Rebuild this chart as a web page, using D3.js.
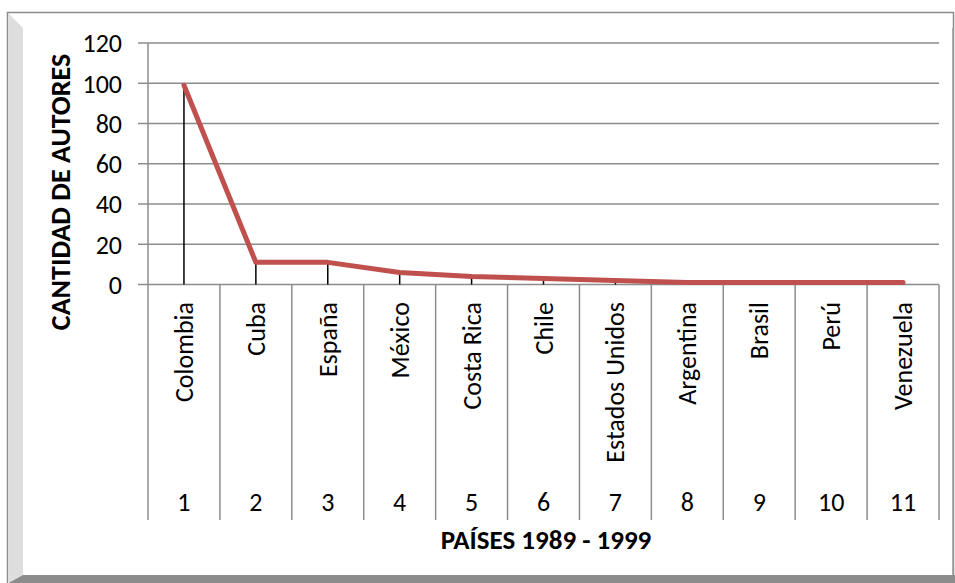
<!DOCTYPE html>
<html>
<head>
<meta charset="utf-8">
<script src="https://cdn.jsdelivr.net/npm/d3@7"></script>
<style>
  body { margin: 0; background: #fff; }
  svg text { font-family: Calibri, Carlito, Lato, sans-serif; fill: #000; }
</style>
</head>
<body>
<div id="grafico"></div>
<script>
// dati del grafico
const paises = ["Colombia", "Cuba", "España", "México", "Costa Rica", "Chile",
    "Estados Unidos", "Argentina", "Brasil", "Perú", "Venezuela"];
const numeros = ["1", "2", "3", "4", "5", "6", "7", "8", "9", "10", "11"];
const autores = [99, 11, 11, 6, 4, 3, 2, 1, 1, 1, 1];
const yTicks = [0, 20, 40, 60, 80, 100, 120];

const W = 955, H = 583;
const gridColor = "#8c8c8c";

let svg = d3.select("#grafico")
    .append("svg")
    .attr("width", W)
    .attr("height", H);

// cornice con ombra
svg.append("rect")
    .attr("x", 7.5).attr("y", 12.5)
    .attr("width", 946).attr("height", 575)
    .style("fill", "#fff")
    .style("stroke", "#8c8c8c")
    .style("stroke-width", 1.5);
svg.append("polygon")
    .attr("points", "8.5,13.5 23,28 23,575 8.5,583")
    .style("fill", "#dedede");
svg.append("polygon")
    .attr("points", "8.5,583 23,575 955,575 955,583")
    .style("fill", "#8c8c8c");
svg.append("line")
    .attr("x1", 953).attr("x2", 953)
    .attr("y1", 28).attr("y2", 575)
    .style("stroke", "#9a9a9a")
    .style("stroke-width", 1.5);

let x = d3.scaleBand()
    .domain(d3.range(paises.length))
    .range([148, 939]);

let y = d3.scaleLinear()
    .domain([0, 120])
    .range([284.5, 43]);

// griglia orizzontale
svg.append("g")
    .selectAll("line")
    .data(yTicks)
    .enter().append("line")
    .attr("x1", 138)
    .attr("x2", 939)
    .attr("y1", (d) => y(d))
    .attr("y2", (d) => y(d))
    .style("stroke", gridColor)
    .style("stroke-width", 1.5);

// asse y
svg.append("line")
    .attr("x1", 148).attr("x2", 148)
    .attr("y1", y(120)).attr("y2", y(0))
    .style("stroke", gridColor)
    .style("stroke-width", 1.5);

svg.append("g")
    .selectAll("text")
    .data(yTicks)
    .enter().append("text")
    .attr("x", 122)
    .attr("y", (d) => y(d))
    .attr("dy", "0.36em")
    .style("text-anchor", "end")
    .style("font-size", "26px")
    .text((d) => d);

// separatori delle categorie
svg.append("g")
    .selectAll("line")
    .data(d3.range(paises.length + 1))
    .enter().append("line")
    .attr("x1", (i) => 148 + i * x.step())
    .attr("x2", (i) => 148 + i * x.step())
    .attr("y1", y(0))
    .attr("y2", 520)
    .style("stroke", gridColor)
    .style("stroke-width", 1.5);

// nomi dei paesi ruotati
svg.append("g")
    .selectAll("text")
    .data(paises)
    .enter().append("text")
    .attr("transform", (d, i) => `translate(${x(i) + x.bandwidth() / 2 + 9},302) rotate(-90)`)
    .style("text-anchor", "end")
    .style("font-size", "26px")
    .text((d) => d);

// numeri sotto
svg.append("g")
    .selectAll("text")
    .data(numeros)
    .enter().append("text")
    .attr("x", (d, i) => x(i) + x.bandwidth() / 2)
    .attr("y", 511)
    .style("text-anchor", "middle")
    .style("font-size", "26px")
    .text((d) => d);

// linee verticali dai punti
svg.append("g")
    .selectAll("line")
    .data(autores)
    .enter().append("line")
    .attr("x1", (d, i) => x(i) + x.bandwidth() / 2)
    .attr("x2", (d, i) => x(i) + x.bandwidth() / 2)
    .attr("y1", (d) => y(d))
    .attr("y2", y(0))
    .style("stroke", "#000")
    .style("stroke-width", 1.5);

// linea dei dati
let linea = d3.line()
    .x((d, i) => x(i) + x.bandwidth() / 2)
    .y((d) => y(d));

svg.append("path")
    .datum(autores)
    .attr("d", linea)
    .style("fill", "none")
    .style("stroke", "#c0504d")
    .style("stroke-width", 5)
    .style("stroke-linejoin", "round")
    .style("stroke-linecap", "round");

// titoli degli assi
svg.append("text")
    .attr("transform", "translate(70,192) rotate(-90)")
    .style("text-anchor", "middle")
    .style("font-size", "28px")
    .style("font-weight", "bold")
    .text("CANTIDAD DE AUTORES");

svg.append("text")
    .attr("x", 546)
    .attr("y", 549)
    .style("text-anchor", "middle")
    .style("font-size", "27px")
    .style("font-weight", "bold")
    .text("PAÍSES 1989 - 1999");
</script>
</body>
</html>
